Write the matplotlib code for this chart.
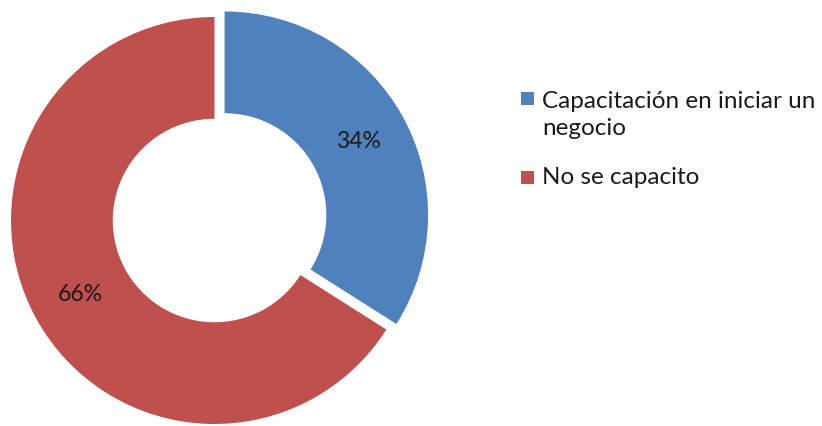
import matplotlib
matplotlib.use("Agg")
import matplotlib.pyplot as plt
from matplotlib.patches import Rectangle

labels = ["Capacitación en iniciar un\nnegocio", "No se capacito"]
values = [34, 66]
colors = ["#4F81BD", "#C0504D"]

W, H, DPI = 822, 426, 100
fig = plt.figure(figsize=(W / DPI, H / DPI), dpi=DPI)
ax = fig.add_axes([0, 0, 1, 1])

cx, cy, R = 214.5, H - 220.5, 203.5
wedges, texts, autotexts = ax.pie(
    values, colors=colors, startangle=90, counterclock=False,
    explode=[11.5, 0], center=(cx, cy), radius=R,
    autopct=lambda p: f"{p:.0f}%", pctdistance=0.75,
    wedgeprops=dict(width=R * 0.5, linewidth=0),
    textprops=dict(fontsize=16.5, family="Lato", color="#1a1a1a"),
)
ax.set_xlim(0, W)
ax.set_ylim(0, H)
ax.set_aspect("equal")
ax.axis("off")

# legend (entries from the same labels/colours as the wedges)
marker_bottoms = [105, 184]
text_last_baselines = [135, 184]
for lab, col, mb, tb in zip(labels, colors, marker_bottoms, text_last_baselines):
    ax.add_patch(Rectangle((521, H - mb), 13, 13, facecolor=col, edgecolor="none"))
    ax.text(542, H - tb, lab, family="Lato", fontsize=17.5, color="#1a1a1a",
            ha="left", va="baseline", linespacing=1.35)

fig.savefig("out.png", dpi=DPI)
